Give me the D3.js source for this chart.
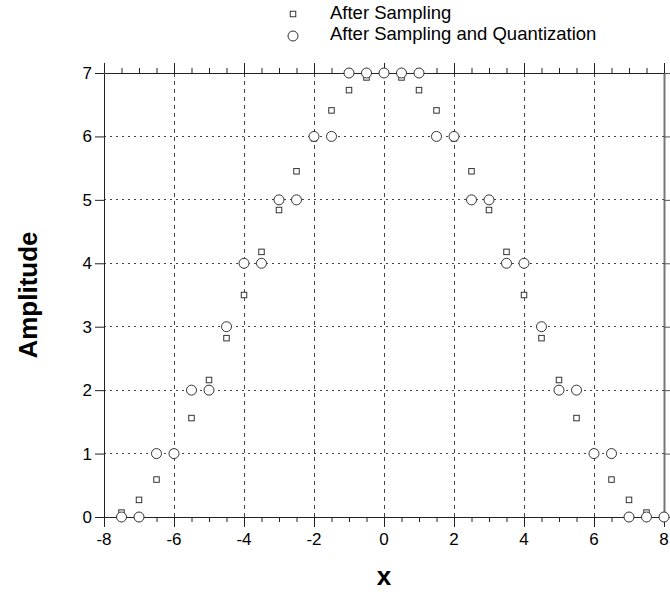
<!DOCTYPE html>
<html>
<head>
<meta charset="utf-8">
<script src="https://cdn.jsdelivr.net/npm/d3@7"></script>
<style>
  html, body { margin: 0; padding: 0; background: #fff; }
  svg { display: block; font-family: Arial, "Liberation Sans", sans-serif; }
</style>
</head>
<body>
<svg id="chart" width="670" height="592"></svg>
<script>
// Sample positions
const xs = [-7.5, -7, -6.5, -6, -5.5, -5, -4.5, -4, -3.5, -3, -2.5, -2, -1.5, -1, -0.5, 0,
            0.5, 1, 1.5, 2, 2.5, 3, 3.5, 4, 4.5, 5, 5.5, 6, 6.5, 7, 7.5, 8];
// Amplitude after sampling
const sampled = [0.07, 0.27, 0.59, 1.02, 1.56, 2.16, 2.82, 3.5, 4.18, 4.84, 5.45, 5.97, 6.41, 6.73, 6.93, 7,
                 6.93, 6.73, 6.41, 5.97, 5.45, 4.84, 4.18, 3.5, 2.82, 2.16, 1.56, 1.02, 0.59, 0.27, 0.07, 0];
// Amplitude after sampling and quantization
const quantized = [0, 0, 1, 1, 2, 2, 3, 4, 4, 5, 5, 6, 6, 7, 7, 7,
                   7, 7, 6, 6, 5, 5, 4, 4, 3, 2, 2, 1, 1, 0, 0, 0];
const xTicks = [-8, -6, -4, -2, 0, 2, 4, 6, 8];
const yTicks = [0, 1, 2, 3, 4, 5, 6, 7];
const seriesNames = ["After Sampling", "After Sampling and Quantization"];

const svg = d3.select("#chart");
const plotL = 104, plotR = 664, plotT = 73, plotB = 517;

const x = d3.scaleLinear().domain([-8, 8]).range([plotL, plotR]);
const y = d3.scaleLinear().domain([0, 7]).range([plotB, plotT]);

const ink = "#222";

// Grid
const grid = svg.append("g");
grid.selectAll("line.vg").data(xTicks.filter(d => d > -8 && d < 8)).join("line")
  .attr("x1", d => x(d)).attr("x2", d => x(d)).attr("y1", plotT).attr("y2", plotB)
  .attr("stroke", "#444").attr("stroke-width", 1).attr("stroke-dasharray", "4,4")
  .attr("shape-rendering", "crispEdges");
grid.selectAll("line.hg").data(yTicks.filter(d => d > 0 && d < 7)).join("line")
  .attr("x1", plotL).attr("x2", plotR).attr("y1", d => y(d)).attr("y2", d => y(d))
  .attr("stroke", "#444").attr("stroke-width", 1).attr("stroke-dasharray", "2,4")
  .attr("shape-rendering", "crispEdges");

// Minor tick positions every 0.5
const minor = d3.range(-8, 8.001, 0.5);

// Bottom axis
const xAxisBottom = d3.axisBottom(x).tickValues(minor).tickSize(5)
  .tickFormat(() => "").tickSizeOuter(0);
const gb = svg.append("g").attr("transform", `translate(0,${plotB})`).call(xAxisBottom);
gb.selectAll(".tick line").attr("stroke", ink)
  .attr("y2", d => (Number.isInteger(d / 2) ? 10 : 5));
gb.select(".domain").attr("stroke", ink);
gb.append("g").selectAll("text").data(xTicks).join("text")
  .attr("x", d => x(d)).attr("y", 24)
  .attr("text-anchor", "middle").attr("dominant-baseline", "middle")
  .attr("fill", "#000").attr("font-size", 17)
  .text(d => d);

// Top axis
const xAxisTop = d3.axisTop(x).tickValues(minor).tickSize(5)
  .tickFormat(() => "").tickSizeOuter(0);
const gt = svg.append("g").attr("transform", `translate(0,${plotT})`).call(xAxisTop);
gt.selectAll(".tick line").attr("stroke", ink)
  .attr("y2", d => (Number.isInteger(d / 2) ? -10 : -5));
gt.select(".domain").attr("stroke", ink);

// Left axis
const yAxisLeft = d3.axisLeft(y).tickValues(yTicks).tickSize(9)
  .tickFormat(d => d).tickSizeOuter(0).tickPadding(3);
const gl = svg.append("g").attr("transform", `translate(${plotL},0)`).call(yAxisLeft);
gl.selectAll(".tick line").attr("stroke", ink);
gl.select(".domain").attr("stroke", ink);
gl.selectAll(".tick text").attr("font-size", 17).attr("fill", "#000")
  .attr("font-family", "Arial, 'Liberation Sans', sans-serif");

// Right axis
const yAxisRight = d3.axisRight(y).tickValues(yTicks).tickSize(8)
  .tickFormat(() => "").tickSizeOuter(0);
const gr = svg.append("g").attr("transform", `translate(${plotR},0)`).call(yAxisRight);
gr.selectAll(".tick line").attr("stroke", "#555");
gr.select(".domain").attr("stroke", "#777").attr("stroke-width", 2);

// Axis titles
svg.append("text")
  .attr("x", x(0)).attr("y", 578)
  .attr("text-anchor", "middle").attr("dominant-baseline", "middle")
  .attr("font-size", 26).attr("font-weight", "bold").attr("fill", "#000")
  .text("x");
svg.append("text")
  .attr("transform", `translate(30,${(plotT + plotB) / 2}) rotate(-90)`)
  .attr("text-anchor", "middle").attr("dominant-baseline", "middle")
  .attr("font-size", 26).attr("font-weight", "bold").attr("fill", "#000")
  .text("Amplitude");

// Sampled values (squares)
const sq = 5.5;
svg.append("g").selectAll("rect").data(xs.map((d, i) => [d, sampled[i]])).join("rect")
  .attr("x", d => x(d[0]) - sq / 2).attr("y", d => y(d[1]) - sq / 2)
  .attr("width", sq).attr("height", sq)
  .attr("fill", "#fff").attr("stroke", "#333").attr("stroke-width", 1);

// Quantized values (circles)
const rad = 5;
svg.append("g").selectAll("circle").data(xs.map((d, i) => [d, quantized[i]])).join("circle")
  .attr("cx", d => x(d[0])).attr("cy", d => y(d[1])).attr("r", rad)
  .attr("fill", "#fff").attr("stroke", "#333").attr("stroke-width", 1);

// Legend
const legend = svg.append("g");
legend.append("rect").attr("x", 293 - sq / 2).attr("y", 14 - sq / 2)
  .attr("width", sq).attr("height", sq)
  .attr("fill", "#fff").attr("stroke", "#333");
legend.append("circle").attr("cx", 293).attr("cy", 36).attr("r", rad)
  .attr("fill", "#fff").attr("stroke", "#333");
legend.selectAll("text").data(seriesNames).join("text")
  .attr("x", 330).attr("y", (d, i) => 14 + i * 21)
  .attr("dominant-baseline", "middle").attr("font-size", 18.5).attr("fill", "#000")
  .text(d => d);
</script>
</body>
</html>
